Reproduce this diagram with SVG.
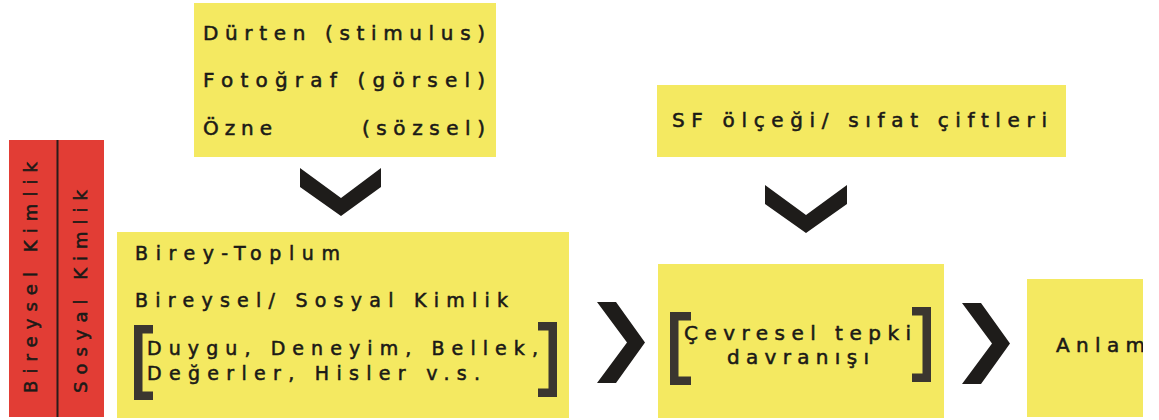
<svg xmlns="http://www.w3.org/2000/svg" width="1159" height="420" viewBox="0 0 1159 420">
<style>
.y{fill:#f4e961}
.r{fill:#e23d35}
.t{font-family:"DejaVu Sans","Verdana",sans-serif;font-size:20px;fill:#1b1a17;stroke:#1b1a17;stroke-width:0.55}
.s{font-size:19px}
.v{font-size:18px}
.br{fill:none;stroke:#3b3630;stroke-width:8.5;stroke-linejoin:miter;stroke-linecap:butt}
.ch{fill:#1e1c1a}
</style>
<defs>
<clipPath id="cut"><rect x="0" y="0" width="1143" height="420"/></clipPath>
</defs>
<rect width="1159" height="420" fill="#ffffff"/>

<g id="kimlik">
<rect class="r" x="9" y="140" width="95" height="277"/>
<line x1="57.5" y1="140" x2="57.5" y2="417" stroke="#2a1c1a" stroke-width="2"/>
<text class="t v" transform="translate(37,393) rotate(-90)" textLength="231" lengthAdjust="spacing">Bireysel Kimlik</text>
<text class="t v" transform="translate(87,393) rotate(-90)" textLength="203" lengthAdjust="spacing">Sosyal Kimlik</text>
</g>

<g id="durten">
<rect class="y" x="194" y="3" width="302" height="154"/>
<text class="t" x="203" y="40" textLength="282" lengthAdjust="spacing">Dürten (stimulus)</text>
<text class="t" x="203" y="87" textLength="282" lengthAdjust="spacing">Fotoğraf (görsel)</text>
<text class="t" x="203" y="135" textLength="69" lengthAdjust="spacing">Özne</text>
<text class="t" x="362" y="135" textLength="123" lengthAdjust="spacing">(sözsel)</text>
</g>

<g id="birey">
<rect class="y" x="117" y="232" width="452" height="186"/>
<text class="t s" x="135" y="260" textLength="205" lengthAdjust="spacing">Birey-Toplum</text>
<text class="t s" x="135" y="307" textLength="373" lengthAdjust="spacing">Bireysel/ Sosyal Kimlik</text>
<path class="br" d="M153,329.25 H138.25 V395.75 H153"/>
<text class="t s" x="147" y="355" textLength="391" lengthAdjust="spacing">Duygu, Deneyim, Bellek,</text>
<text class="t s" x="147" y="380" textLength="333" lengthAdjust="spacing">Değerler, Hisler v.s.</text>
<path class="br" d="M538,326.25 H552.75 V392.75 H538"/>
</g>

<g id="sf">
<rect class="y" x="657" y="85" width="409" height="72"/>
<text class="t" x="672" y="127" textLength="375" lengthAdjust="spacing">SF ölçeği/ sıfat çiftleri</text>
</g>

<g id="cevresel">
<rect class="y" x="658" y="264" width="286" height="154"/>
<path class="br" d="M691,316.25 H674.25 V380.75 H691"/>
<text class="t" x="684" y="340" textLength="227" lengthAdjust="spacing">Çevresel tepki</text>
<text class="t" x="727" y="364" textLength="142" lengthAdjust="spacing">davranışı</text>
<path class="br" d="M912,311.25 H926.75 V377.75 H912"/>
</g>

<g id="anlam" clip-path="url(#cut)">
<rect class="y" x="1027" y="279" width="116" height="138"/>
<text class="t" x="1056" y="352" textLength="89" lengthAdjust="spacing">Anlam</text>
</g>

<g id="connectors">
<polygon class="ch" points="300,168 341,198 381,168 381,187 341,216 300,187"/>
<polygon class="ch" points="765,185 806,215 847,185 847,204 806,233 765,204"/>
<polygon class="ch" points="597,302 616,302 645,342.5 616,383 597,383 627,342.5"/>
<polygon class="ch" points="962,303 981,303 1010,343.5 981,384 962,384 992,343.5"/>
</g>
</svg>
